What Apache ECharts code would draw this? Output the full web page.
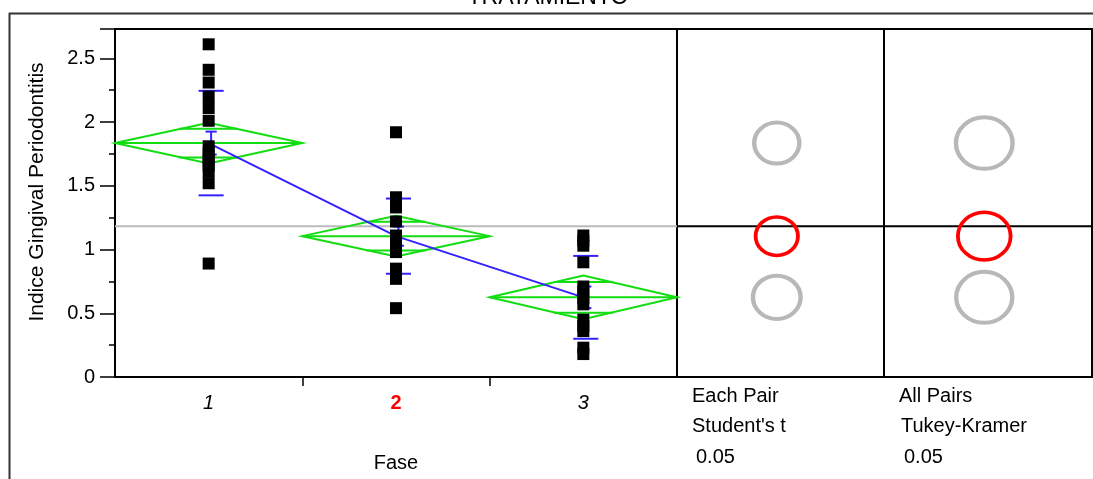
<!DOCTYPE html>
<html>
<head>
<meta charset="utf-8">
<style>
  html, body { margin: 0; padding: 0; background: #fff; }
  #chart { width: 1093px; height: 479px; }
</style>
</head>
<body>
<div id="chart"></div>
<script src="https://cdn.jsdelivr.net/npm/echarts@6.0.0/dist/echarts.min.js"></script>
<script>
// Indice gingival por fase (JMP oneway style)
const categories = ['1', '2', '3']
const fase1 = [2.61, 2.41, 2.31, 2.20, 2.11, 2.01, 1.81, 1.76, 1.72, 1.70, 1.66, 1.61, 1.52, 0.89]
const fase2 = [1.92, 1.41, 1.33, 1.22, 1.11, 1.06, 1.02, 0.98, 0.85, 0.77, 0.54]
const fase3 = [1.11, 1.07, 1.03, 0.90, 0.71, 0.67, 0.62, 0.57, 0.45, 0.40, 0.36, 0.23, 0.18]
const means = [1.835, 1.105, 0.625]
const ciHalf = [0.16, 0.16, 0.171]
const sdHalf = [0.41, 0.295, 0.325]
const seHalf = [0.09, 0.075, 0.085]
const grandMean = 1.182
const studentRadius = [0.161, 0.151, 0.170]
const tukeyRadius = [0.202, 0.188, 0.200]
const selectedGroup = 1

const FONT = '"Liberation Sans", Arial, sans-serif'
const GREEN = '#11dd11'
const BLUE = '#3322ff'

const points = []
;[fase1, fase2, fase3].forEach((vals, i) => {
  vals.forEach(v => points.push([i + 1, v]))
})

function seg(a, b, style) {
  return { type: 'line', shape: { x1: a[0], y1: a[1], x2: b[0], y2: b[1] }, style }
}

function renderDiamond(params, api) {
  const x = api.value(0)
  const m = api.value(1)
  const ci = api.value(2)
  const ov = ci / Math.SQRT2
  const style = { stroke: GREEN, lineWidth: 2, fill: 'none' }
  const left = api.coord([x - 0.5, m])
  const right = api.coord([x + 0.5, m])
  const top = api.coord([x, m + ci])
  const bottom = api.coord([x, m - ci])
  return {
    type: 'group',
    children: [
      { type: 'polygon', shape: { points: [left, top, right, bottom] }, style },
      seg(left, right, style),
      seg(api.coord([x - 0.157, m + ov]), api.coord([x + 0.157, m + ov]), style),
      seg(api.coord([x - 0.157, m - ov]), api.coord([x + 0.157, m - ov]), style),
    ],
  }
}

function renderErrors(params, api) {
  const x = api.value(0) + 0.013
  const m = api.value(1)
  const sd = api.value(2)
  const se = api.value(3)
  const style = { stroke: BLUE, lineWidth: 2 }
  const tick = (v, w) => seg(api.coord([x - w, v]), api.coord([x + w, v]), style)
  return {
    type: 'group',
    children: [
      tick(m + sd, 0.067),
      tick(m - sd, 0.067),
      tick(m + se, 0.03),
      tick(m - se, 0.03),
      seg(api.coord([x, m + se]), api.coord([x, m - se]), style),
    ],
  }
}

function renderCircle(params, api) {
  const c = api.coord([api.value(0), api.value(1)])
  const ry = api.size([0, api.value(2)])[1]
  const sel = params.dataIndex === selectedGroup
  return {
    type: 'circle',
    x: c[0],
    y: c[1],
    scaleX: 1.1,
    shape: { cx: 0, cy: 0, r: ry },
    style: {
      fill: 'none',
      stroke: sel ? '#ff0000' : '#b8b8b8',
      lineWidth: sel ? 3.5 : 4,
      strokeNoScale: true,
    },
  }
}

const panelGrid = { show: true, borderColor: '#000', borderWidth: 2, backgroundColor: 'transparent' }
const hiddenAxis = { type: 'value', show: false, splitLine: { show: false } }

const option = {
  animation: false,
  textStyle: { fontFamily: FONT },
  grid: [
    { left: 115, top: 29, width: 562, height: 348, ...panelGrid },
    { left: 677, top: 29, width: 207, height: 348, ...panelGrid },
    { left: 884, top: 29, width: 208, height: 348, ...panelGrid },
  ],
  xAxis: [
    {
      type: 'value',
      gridIndex: 0,
      min: 0.5,
      max: 3.5,
      name: 'Fase',
      nameLocation: 'middle',
      nameGap: 76,
      nameTextStyle: { fontSize: 20, color: '#000', fontFamily: FONT },
      splitLine: { show: false },
      axisLine: { lineStyle: { color: '#000', width: 2 } },
      axisTick: { customValues: [1.5, 2.5], length: 9, lineStyle: { color: '#000', width: 1.5 } },
      axisLabel: {
        customValues: [1, 2, 3],
        margin: 16,
        formatter: v => {
          const name = categories[Math.round(v) - 1]
          return Math.round(v) - 1 === selectedGroup ? '{sel|' + name + '}' : '{it|' + name + '}'
        },
        rich: {
          sel: { color: '#ff0000', fontWeight: 'bold', fontSize: 20, fontFamily: FONT },
          it: { color: '#000', fontStyle: 'italic', fontSize: 20, fontFamily: FONT },
        },
      },
    },
    { ...hiddenAxis, gridIndex: 1, min: 0, max: 1 },
    { ...hiddenAxis, gridIndex: 2, min: 0, max: 1 },
  ],
  yAxis: [
    {
      type: 'value',
      gridIndex: 0,
      min: 0,
      max: 2.73,
      interval: 0.5,
      splitLine: { show: false },
      axisLine: { show: true, lineStyle: { color: '#000', width: 2 } },
      axisTick: { length: 15, lineStyle: { color: '#000', width: 1.5 } },
      minorTick: { show: true, splitNumber: 2, length: 6, lineStyle: { color: '#000', width: 1.5 } },
      axisLabel: {
        margin: 20,
        fontSize: 20,
        color: '#000',
        fontFamily: FONT,
        formatter: v => (Math.abs(v * 2 - Math.round(v * 2)) < 1e-6 ? String(v) : ''),
      },
    },
    { ...hiddenAxis, gridIndex: 1, min: 0, max: 2.73 },
    { ...hiddenAxis, gridIndex: 2, min: 0, max: 2.73 },
  ],
  series: [
    {
      type: 'line',
      xAxisIndex: 0,
      yAxisIndex: 0,
      data: [[0.5, grandMean], [3.5, grandMean]],
      symbol: 'none',
      lineStyle: { color: '#bbbbbb', width: 2 },
      z: 1,
      silent: true,
    },
    {
      type: 'custom',
      xAxisIndex: 0,
      yAxisIndex: 0,
      data: means.map((m, i) => [i + 1, m, ciHalf[i]]),
      renderItem: renderDiamond,
      z: 2,
      silent: true,
    },
    {
      type: 'line',
      xAxisIndex: 0,
      yAxisIndex: 0,
      data: means.map((m, i) => [i + 1, m]),
      symbol: 'none',
      lineStyle: { color: BLUE, width: 2 },
      z: 3,
      silent: true,
    },
    {
      type: 'custom',
      xAxisIndex: 0,
      yAxisIndex: 0,
      data: means.map((m, i) => [i + 1, m, sdHalf[i], seHalf[i]]),
      renderItem: renderErrors,
      z: 3,
      silent: true,
    },
    {
      type: 'scatter',
      xAxisIndex: 0,
      yAxisIndex: 0,
      data: points,
      symbol: 'rect',
      symbolSize: 12,
      itemStyle: { color: '#000', opacity: 1 },
      z: 5,
      silent: true,
    },
    {
      type: 'line',
      xAxisIndex: 1,
      yAxisIndex: 1,
      data: [[0, grandMean], [1, grandMean]],
      symbol: 'none',
      lineStyle: { color: '#000', width: 2 },
      silent: true,
    },
    {
      type: 'line',
      xAxisIndex: 2,
      yAxisIndex: 2,
      data: [[0, grandMean], [1, grandMean]],
      symbol: 'none',
      lineStyle: { color: '#000', width: 2 },
      silent: true,
    },
    {
      type: 'custom',
      xAxisIndex: 1,
      yAxisIndex: 1,
      data: means.map((m, i) => [0.482, m, studentRadius[i]]),
      renderItem: renderCircle,
      z: 4,
      silent: true,
    },
    {
      type: 'custom',
      xAxisIndex: 2,
      yAxisIndex: 2,
      data: means.map((m, i) => [0.482, m, tukeyRadius[i]]),
      renderItem: renderCircle,
      z: 4,
      silent: true,
    },
  ],
  graphic: [
    { type: 'line', shape: { x1: 9, y1: 13.5, x2: 1093, y2: 13.5 }, style: { stroke: '#333', lineWidth: 2 } },
    { type: 'line', shape: { x1: 9.5, y1: 13, x2: 9.5, y2: 479 }, style: { stroke: '#333', lineWidth: 2 } },
    {
      type: 'text', x: 548, y: -2,
      style: { text: 'TRATAMIENTO', font: '23px ' + FONT, fill: '#000', align: 'center', verticalAlign: 'middle' },
    },
    {
      type: 'text', x: 37, y: 192, rotation: Math.PI / 2,
      style: { text: 'Indice Gingival Periodontitis', font: '21px ' + FONT, fill: '#000', align: 'center', verticalAlign: 'middle' },
    },
    { type: 'text', x: 692, y: 396, style: { text: 'Each Pair', font: '20px ' + FONT, fill: '#000', verticalAlign: 'middle' } },
    { type: 'text', x: 692, y: 426, style: { text: "Student's t", font: '20px ' + FONT, fill: '#000', verticalAlign: 'middle' } },
    { type: 'text', x: 696, y: 457, style: { text: '0.05', font: '20px ' + FONT, fill: '#000', verticalAlign: 'middle' } },
    { type: 'text', x: 899, y: 396, style: { text: 'All Pairs', font: '20px ' + FONT, fill: '#000', verticalAlign: 'middle' } },
    { type: 'text', x: 901, y: 426, style: { text: 'Tukey-Kramer', font: '20px ' + FONT, fill: '#000', verticalAlign: 'middle' } },
    { type: 'text', x: 904, y: 457, style: { text: '0.05', font: '20px ' + FONT, fill: '#000', verticalAlign: 'middle' } },
  ],
}

const chart = echarts.init(document.getElementById('chart'))
chart.setOption(option)
</script>
</body>
</html>
